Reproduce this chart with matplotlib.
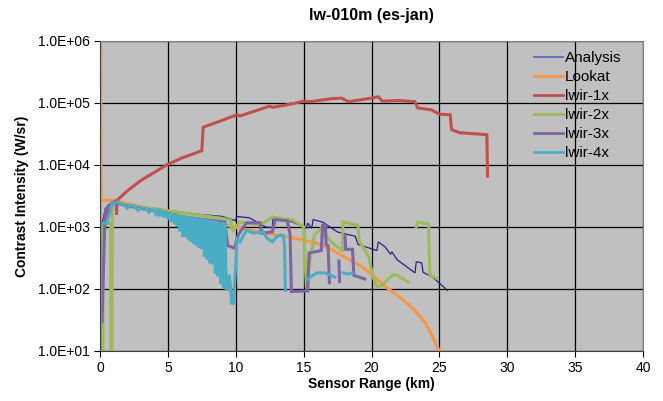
import numpy as np
import matplotlib
matplotlib.use("Agg")
import matplotlib.pyplot as plt
from matplotlib.ticker import FuncFormatter, FixedLocator, NullLocator

plt.rcParams['font.family'] = ['Liberation Sans', 'DejaVu Sans']

nan = np.nan

# range (km) and contrast intensity (W/sr) per series
analysis_x = [0.1, 0.4, 0.9, 2, 3, 4, 5, 6, 7, 8, 9, 10.0, 10.05, 11.0, 12.2, 12.7, 12.75,
              14.2, 15.2, 15.3, 15.6, 15.7, 16.4, 17.5, 18.8, 19.0, 20.4, 20.5, 21.0,
              21.4, 21.5, 21.9, 23.2, 23.3, 23.7, 23.8, 24.5, 25.6]
analysis_y = [1000, 2000, 2500, 2290, 2140, 2000, 1860, 1740, 1620, 1550, 1480, 1260, 1480,
              1410, 1000, 980, 1480, 1200, 955, 1150, 955, 1320, 1200, 830, 710, 525, 417,
              575, 479, 363, 398, 295, 182, 275, 263, 186, 155, 95]

lookat_x = [0.05, 0.08, 1.0, 2, 3, 4, 5, 6, 7, 8, 9, 10, 11, 12, 13, 14, 15, 16, 17, 18,
            19, 20, 21, 22, 23, 24, 24.5, 25.0]
lookat_y = [2.0e6, 2700, 2690, 2400, 2140, 1900, 1700, 1510, 1350, 1230, 1100, 980, 890,
            810, 740, 680, 620, 540, 440, 330, 250, 175, 110, 76, 50, 28, 17, 10]

lwir1_x = [0.05, 0.5, 0.96, 1.2, 1.22, 1.25, 2.0, 3.0, 4.0, 4.9, 6.0, 7.0, 7.5, 7.6, 8.5,
           10.1, 10.3, 11.0, 12.5, 12.7, 14.0, 15.0, 15.5, 17.0, 17.8, 18.3, 20.0, 20.5,
           20.8, 22.0, 23.2, 23.4, 24.4, 25.0, 25.8, 25.9, 26.5, 28.5, 28.55]
lwir1_y = [480, 1580, 2500, 2630, 1580, 2690, 3800, 5620, 7590, 10000, 12900, 15500,
           17000, 40700, 47900, 64600, 61700, 69200, 89100, 85100, 95500, 107000, 105000,
           117000, 120000, 105000, 120000, 126000, 107000, 110000, 105000, 83200, 77600,
           66100, 64600, 37200, 33100, 30900, 6610]

lwir2_x = [0.15, 0.2, 0.25, 0.78, 0.8, 0.88, 0.92, 1.3, 2, 3, 4, 5, 6, 7, 8, 9, 9.6, 9.8,
           10.3, 11.8, 12.7, 14.2, 15.0, 15.2, 15.5, 15.8, 16.4, 16.8, 17.3, 17.8, 17.85,
           17.9, 18.9, 19.0, 19.1, 19.8, 20.1, 20.4, 20.7, 21.6, 21.9, 22.7, nan,
           23.3, 23.4, 24.2, 24.3, 24.8]
lwir2_y = [1100, 5, 1150, 1150, 5, 5, 2400, 2500, 2240, 2090, 1950, 1820, 1700, 1590, 1480,
           1380, 1290, 890, 1200, 1070, 1450, 1290, 1000, 107, 330, 740, 1000, 660, 510, 430,
           400, 1200, 1070, 1070, 600, 330, 160, 107, 112, 170, 166, 129, nan,
           1000, 1200, 1120, 170, 148]

lwir3_x = [0.15, 0.37, 0.6, 1.0, 2, 3, 4, 5, 5.6, 5.7, 5.9, 7.0, 8.0, 9.2, 9.4, 9.9, 10.2,
           10.8, 11.8, 11.9, 12.7, 12.9, 13.8, 14.0, 14.1, 15.3, 15.4, 16.3, 16.4, 16.6,
           16.65, 16.8, 16.9, nan, 17.6, 17.65, nan, 18.05, 18.1, 18.6, 18.7, 19.5]
lwir3_y = [30, 1650, 2200, 2500, 2190, 2000, 1820, 1660, 1550, 1070, 1480, 1380, 1290, 1200,
           500, 457, 760, 1170, 1170, 794, 832, 1320, 1260, 760, 91, 93, 380, 417, 1070, 1070,
           525, 500, 126, nan, 282, 132, nan, 741, 437, 437, 166, 145]

# lwir-4x flickers between an upper and lower level from 4 to 9.3 km
lwir4_x = [0.02, 0.05, 0.5, 0.9, 1.25, 1.8, 2.0, 2.2, 2.6, 2.8, 3.0, 3.4, 3.6, 3.8,
           4.0, 4.1, 4.2, 4.3, 4.4, 4.5, 4.6, 4.7, 4.8, 4.9, 5.0, 5.1, 5.2, 5.3, 5.4, 5.5,
           5.6, 5.7, 5.8, 5.9, 6.0, 6.1, 6.2, 6.3, 6.4, 6.5, 6.6, 6.7, 6.8, 6.9, 7.0, 7.1,
           7.2, 7.3, 7.4, 7.5, 7.6, 7.7, 7.8, 7.9, 8.0, 8.1, 8.2, 8.3, 8.4, 8.5, 8.6, 8.7,
           8.8, 8.9, 9.0, 9.1, 9.2, 9.3, 9.4, 9.5, 9.6, 9.7, 9.85, 10.0, 10.1, 10.3, 10.8,
           11.3, 12.0, 12.3, 12.7, 13.0, 13.3, 13.5, 13.6, 13.65, nan,
           15.3, 15.5, 16.0, 16.6, 17.0, 17.3, nan, 17.9, 18.3, 18.6]
lwir4_y = [5, 1120, 1150, 2400, 2510, 2290, 2000, 2240, 2140, 1860, 2040, 2000, 1740, 1900,
           1860, 1650, 1830, 1600, 1800, 1500, 1770, 1450, 1730, 1400, 1700, 1300, 1670,
           1200, 1640, 1120, 1610, 1000, 1580, 850, 1550, 690, 1530, 700, 1500, 630, 1470,
           580, 1450, 540, 1420, 500, 1400, 460, 1370, 440, 1350, 330, 1320, 300, 1300, 260,
           1280, 250, 1260, 178, 1230, 160, 1210, 120, 1190, 105, 1170, 100, 100, 170, 120,
           59, 59, 250, 630, 575, 890, 794, 832, 660, 575, 692, 741, 724, 479, 95, nan,
           141, 158, 182, 182, 166, 155, nan, 182, 174, 182]

names = ['Analysis', 'Lookat', 'lwir-1x', 'lwir-2x', 'lwir-3x', 'lwir-4x']
colors = ['#23238E', '#F79646', '#C0504D', '#9BBB59', '#8064A2', '#4BACC6']
xs = [analysis_x, lookat_x, lwir1_x, lwir2_x, lwir3_x, lwir4_x]
ys = [analysis_y, lookat_y, lwir1_y, lwir2_y, lwir3_y, lwir4_y]
widths = [0.9, 2.2, 2.2, 2.2, 2.2, 2.2]

fig = plt.figure(figsize=(6.63, 4.01), dpi=100)
ax = fig.add_axes([100/663, 50/401, 543/663, 310/401])
ax.set_facecolor('#C0C0C0')

for x, y, c, lw, n in zip(xs, ys, colors, widths, names):
    ax.plot(x, y, color=c, lw=lw, label=n, solid_joinstyle='miter')

ax.set_yscale('log')
ax.set_xlim(0, 40)
ax.set_ylim(10, 1e6)
ax.xaxis.set_major_locator(FixedLocator(np.arange(0, 41, 5)))
ax.yaxis.set_major_locator(FixedLocator([1e1, 1e2, 1e3, 1e4, 1e5, 1e6]))
ax.yaxis.set_minor_locator(NullLocator())
ax.yaxis.set_major_formatter(FuncFormatter(lambda v, p: f'{v:.1E}'))
ax.grid(True, color='black', lw=0.9)
ax.set_axisbelow(True)
ax.tick_params(direction='out', length=4, width=0.8, labelsize=10, colors='black')

for s in ['top', 'right']:
    ax.spines[s].set_color('#808080')
for s in ['left', 'bottom']:
    ax.spines[s].set_color('#404040')

ax.set_title('lw-010m (es-jan)', fontsize=11.5, fontweight='bold', pad=15)
ax.set_xlabel('Sensor Range (km)', fontsize=10, fontweight='bold', labelpad=1)
ax.set_ylabel('Contrast Intensity (W/sr)', fontsize=10, fontweight='bold', labelpad=6)

leg = ax.legend(loc='upper left', bbox_to_anchor=(534/663, 1 - 51/401),
                bbox_transform=fig.transFigure, frameon=False, fontsize=11,
                handlelength=1.9, handletextpad=0.1, labelspacing=0.33, borderpad=0,
                borderaxespad=0)
for line in leg.get_lines():
    line.set_linewidth(2.0)
leg.get_lines()[0].set_linewidth(1.2)
leg.get_lines()[0].set_color('#5060C0')

fig.savefig('out.png', dpi=100)
